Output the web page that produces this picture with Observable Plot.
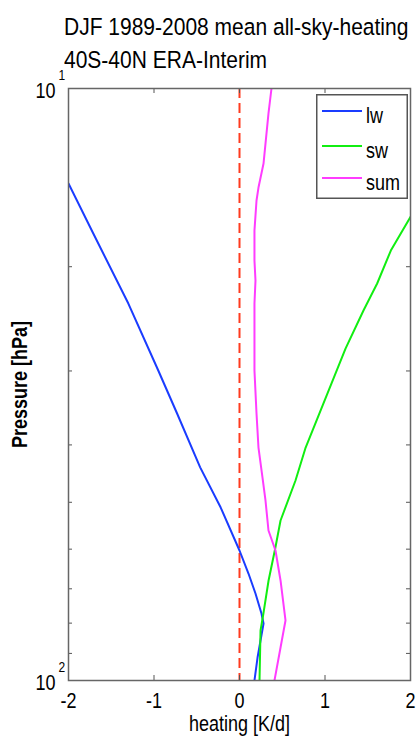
<!DOCTYPE html>
<html><head><meta charset="utf-8">
<script src="https://cdn.jsdelivr.net/npm/d3@7"></script>
<script src="https://cdn.jsdelivr.net/npm/@observablehq/plot@0.6"></script>
<style>
body{margin:0;background:#fff;font-family:"Liberation Sans",Arial,sans-serif;}
#wrap{position:relative;width:416px;height:738px;overflow:hidden;}
.title{position:absolute;left:64px;font-size:21px;color:#000;white-space:nowrap;transform:scaleY(1.12);transform-origin:0 0;z-index:2;}
#chart{position:absolute;left:0;top:60px;}
#legend{position:absolute;left:316px;top:94px;}
</style></head><body>
<div id="wrap">
<div id="chart"></div>
<div class="title" style="top:14px">DJF 1989-2008 mean all-sky-heating</div>
<div class="title" style="top:47px">40S-40N ERA-Interim</div>
<div id="legend"></div>
</div>
<script>
// Longwave heating (K/d) and its pressure levels (hPa)
const pLw = [14.47, 17.58, 23.08, 29.95, 35.40, 43.65, 51.03, 60.31, 65.96, 71.29, 77.05, 80.12, 91.45, 100];
const lw  = [-2.0, -1.71, -1.30, -0.95, -0.73, -0.46, -0.22, 0.0, 0.105, 0.187, 0.257, 0.281, 0.211, 0.175];
// Shortwave heating
const pSw = [16.39, 18.78, 21.35, 23.71, 27.50, 40.56, 45.94, 53.67, 59.61, 67.77, 77.05, 82.34, 100];
const sw  = [2.01, 1.77, 1.61, 1.45, 1.24, 0.77, 0.655, 0.48, 0.42, 0.34, 0.28, 0.246, 0.234];
// Sum
const pSum = [10, 11.02, 13.39, 14.70, 15.46, 17.38, 19.52, 21.10, 23.08, 29.95, 35.40, 40.41, 45.42, 49.65, 55.80, 60.31, 67.77, 79.18, 87.97, 100];
const sum  = [0.374, 0.339, 0.281, 0.222, 0.199, 0.175, 0.175, 0.187, 0.175, 0.175, 0.199, 0.222, 0.269, 0.304, 0.339, 0.421, 0.480, 0.538, 0.480, 0.409];

const xTicks = [-2, -1, 0, 1, 2];
const xTickLabels = ["-2", "-1", "0", "1", "2"];
const yMinor = [20, 30, 40, 50, 60, 70, 80, 90];
const yMajor = [10, 100];
const yMajorBase = ["10", "10"];
const yMajorExp = ["1", "2"];
const seriesNames = ["lw", "sw", "sum"];
const seriesColors = ["#1a3cff", "#11ee11", "#ff3cff"];

const W = 416, H = 678;
const mL = 68, mR = 6, mT = 28, mB = 58;
const innerW = W - mL - mR, innerH = H - mT - mB;

const toRows = (xs, ps) => xs.map((v, i) => ({x: v, p: ps[i]}));

const chart = Plot.plot({
  width: W, height: H,
  marginLeft: mL, marginRight: mR, marginTop: mT, marginBottom: mB,
  x: {domain: [-2, 2], axis: null},
  y: {type: "log", domain: [10, 100], reverse: true, axis: null},
  style: {fontFamily: "'Liberation Sans', Arial, sans-serif", background: "transparent", overflow: "visible"},
  marks: [
    Plot.ruleX([0], {stroke: "#ff3b1f", strokeWidth: 2, strokeDasharray: "10,5"}),
    Plot.line(toRows(lw, pLw), {x: "x", y: "p", stroke: seriesColors[0], strokeWidth: 2, clip: true}),
    Plot.line(toRows(sw, pSw), {x: "x", y: "p", stroke: seriesColors[1], strokeWidth: 2, clip: true}),
    Plot.line(toRows(sum, pSum), {x: "x", y: "p", stroke: seriesColors[2], strokeWidth: 2, clip: true}),
    Plot.tickX(xTicks, {x: d => d, insetTop: innerH - 5, stroke: "#555"}),
    Plot.tickX(xTicks, {x: d => d, insetBottom: innerH - 5, stroke: "#555"}),
    Plot.tickY(yMinor, {y: d => d, insetRight: innerW - 4, stroke: "#555"}),
    Plot.tickY(yMinor, {y: d => d, insetLeft: innerW - 4, stroke: "#555"}),
    Plot.frame({stroke: "#666", strokeWidth: 1.5}),
    Plot.text(xTicks, {x: d => d, text: (d, i) => xTickLabels[i], frameAnchor: "bottom", lineAnchor: "middle", dy: 21, fontSize: 18, fill: "#000"}),
    Plot.text(yMajor, {y: d => d, text: (d, i) => yMajorBase[i], frameAnchor: "left", textAnchor: "end", dx: -13, dy: 3, fontSize: 18, fill: "#000"}),
    Plot.text(yMajor, {y: d => d, text: (d, i) => yMajorExp[i], frameAnchor: "left", textAnchor: "start", dx: -10, dy: -13, fontSize: 12, fill: "#000"}),
    Plot.text(["heating [K/d]"], {frameAnchor: "bottom", lineAnchor: "middle", dy: 44, textAnchor: "middle", fontSize: 18, fill: "#000"}),
    Plot.text(["Pressure [hPa]"], {frameAnchor: "left", dx: -48, textAnchor: "middle", rotate: -90, fontSize: 18, fontWeight: "bold", fill: "#000"})
  ]
});
// stretch glyphs vertically a little, as in the reference rendering
d3.select(chart).selectAll("text").each(function() {
  const t = this.getAttribute("transform") || "";
  this.setAttribute("transform", (t + " scale(1,1.2)").trim());
});
document.getElementById("chart").appendChild(chart);

// Legend
const lg = d3.select("#legend").append("svg").attr("width", 92).attr("height", 105)
  .style("font-family", "'Liberation Sans', Arial, sans-serif");
lg.append("rect").attr("x", 0.75).attr("y", 0.75).attr("width", 90.5).attr("height", 103.5)
  .attr("fill", "#fff").attr("stroke", "#555").attr("stroke-width", 1.5);
const rowY = [17, 52, 84];
seriesNames.forEach((n, i) => {
  lg.append("line").attr("x1", 6).attr("x2", 46).attr("y1", rowY[i]).attr("y2", rowY[i])
    .attr("stroke", seriesColors[i]).attr("stroke-width", 2);
  lg.append("text").attr("transform", `translate(50,${rowY[i] + 12}) scale(1,1.2)`)
    .attr("font-size", 18).text(n);
});
</script>
</body></html>
